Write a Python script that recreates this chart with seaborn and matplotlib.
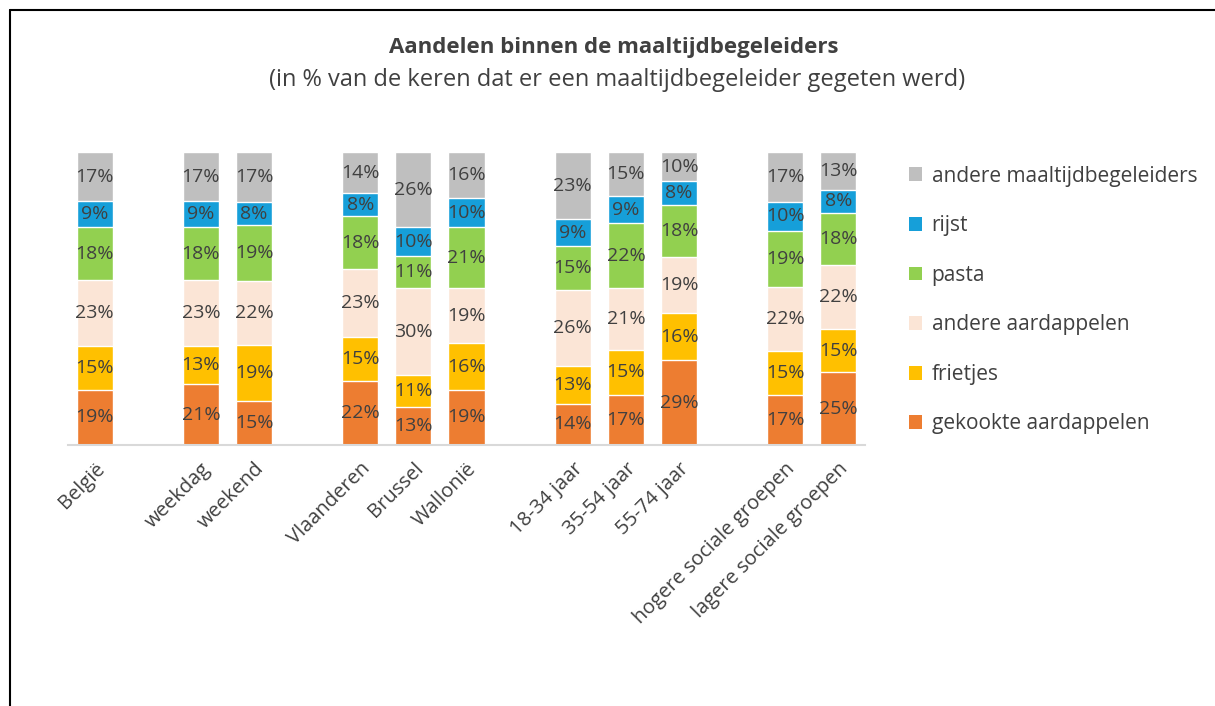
import numpy as np
import pandas as pd
import matplotlib
matplotlib.use("Agg")
import matplotlib.pyplot as plt
import seaborn as sns
from matplotlib.lines import Line2D
from matplotlib.patches import Patch

# categories on the x axis, split in groups (an empty slot between groups)
categories = ["België", "weekdag", "weekend", "Vlaanderen", "Brussel", "Wallonië",
              "18-34 jaar", "35-54 jaar", "55-74 jaar",
              "hogere sociale groepen", "lagere sociale groepen"]
group_sizes = [1, 2, 3, 3, 2]

# series, from bottom to top of the stack (in %)
series = ["gekookte aardappelen", "frietjes", "andere aardappelen", "pasta", "rijst",
          "andere maaltijdbegeleiders"]
gekookte = [19, 21, 15, 22, 13, 19, 14, 17, 29, 17, 25]
frietjes = [15, 13, 19, 15, 11, 16, 13, 15, 16, 15, 15]
andere_aardappelen = [23, 23, 22, 23, 30, 19, 26, 21, 19, 22, 22]
pasta = [18, 18, 19, 18, 11, 21, 15, 22, 18, 19, 18]
rijst = [9, 9, 8, 8, 10, 10, 9, 9, 8, 10, 8]
andere = [17, 17, 17, 14, 26, 16, 23, 15, 10, 17, 13]

colors = ["#ED7D31", "#FFC000", "#FBE5D6", "#92D050", "#169FD9", "#BFBFBF"]
text_color = "#404040"

sns.set_theme(style="white")
plt.rcParams['font.family'] = ['Open Sans', 'DejaVu Sans']

# x positions with one empty slot between groups
positions = []
x = 0
for n in group_sizes:
    positions.extend(range(x, x + n))
    x += n + 1

values = np.array([gekookte, frietjes, andere_aardappelen, pasta, rijst, andere], dtype=float)
shares = values / values.sum(axis=0) * 100  # 100% stacked
tops = shares.cumsum(axis=0)

fig = plt.figure(figsize=(12.15, 7.06), dpi=100)
ax = fig.add_axes([68 / 1215, 1 - 445 / 706, 797 / 1215, 293 / 706])

# draw cumulative bars from the top layer down so that they stack
for i in reversed(range(len(series))):
    df = pd.DataFrame({"x": positions, "y": tops[i]})
    sns.barplot(data=df, x="x", y="y", native_scale=True, color=colors[i], saturation=1,
                width=0.68, errorbar=None, edgecolor="white", linewidth=1, ax=ax)

# value labels
for i in range(len(series)):
    for j, pos in enumerate(positions):
        ax.text(pos, tops[i][j] - shares[i][j] / 2, f"{values[i][j]:.0f}%",
                ha="center", va="center", fontsize=14, color=text_color)

ax.set_xlim(-0.5, positions[-1] + 0.5)
ax.set_ylim(0, 100)
ax.set_xlabel("")
ax.set_ylabel("")
ax.set_yticks([])
ax.set_xticks(positions)
ax.set_xticklabels(categories, rotation=45, ha="right", rotation_mode="anchor",
                   fontsize=14.5, color=text_color)
ax.tick_params(axis="x", length=0, pad=10)
for s in ["top", "left", "right"]:
    ax.spines[s].set_visible(False)
ax.spines["bottom"].set_color("#D9D9D9")
ax.spines["bottom"].set_linewidth(1.5)

fig.text(0.505, 1 - 47 / 706, "Aandelen binnen de maaltijdbegeleiders", ha="center", va="center",
         fontsize=16, fontweight="bold", color=text_color)
fig.text(0.508, 1 - 80 / 706, "(in % van de keren dat er een maaltijdbegeleider gegeten werd)",
         ha="center", va="center", fontsize=17, color=text_color)

# legend, top series first
handles = [Patch(facecolor=colors[i], edgecolor="none") for i in reversed(range(len(series)))]
labels = list(reversed(series))
fig.legend(handles, labels, loc="upper left", bbox_to_anchor=(890 / 1215, 1 - 147 / 706),
           frameon=False, fontsize=15, labelspacing=1.37, handlelength=0.65, handleheight=0.65,
           handletextpad=0.45, labelcolor=text_color)

# frame lines of the original picture
fig.add_artist(Line2D([10 / 1215, 1], [1 - 10 / 706, 1 - 10 / 706], color="black", lw=1.5))
fig.add_artist(Line2D([10 / 1215, 10 / 1215], [0, 1 - 10 / 706], color="black", lw=1.5))

fig.savefig("out.png", dpi=100)
